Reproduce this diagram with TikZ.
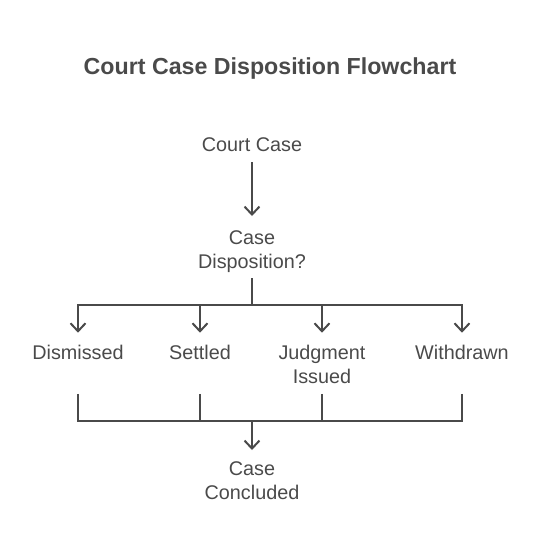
\documentclass[tikz,border=0pt]{standalone}
\usepackage{fontspec}
\setmainfont{Liberation Sans}
\usetikzlibrary{arrows.meta}
\definecolor{ink}{HTML}{4A4A4A}
\begin{document}
\begin{tikzpicture}[x=1pt,y=-1pt,
  lbl/.style={inner sep=0pt, anchor=north, align=center, text=ink, font=\fontsize{19.8}{24}\selectfont},
  conn/.style={draw=ink, line width=2pt},
  arr/.style={conn, -{Straight Barb[length=8pt,width=15pt]}}]
\useasboundingbox (0,0) rectangle (540,552);
\node[inner sep=0pt, anchor=base, text=ink, font=\bfseries\fontsize{23.2}{28}\selectfont] (title) at (270,74) {Court Case Disposition Flowchart};
\node[lbl] (court) at (252,137) {Court Case};
\node[lbl] (disp) at (252,230) {Case\\Disposition?};
\node[lbl] (dism) at (78,345) {Dismissed};
\node[lbl] (sett) at (200,345) {Settled};
\node[lbl] (judg) at (322,345) {Judgment\\Issued};
\node[lbl] (with) at (462,345) {Withdrawn};
\node[lbl] (concl) at (252,461) {Case\\Concluded};
\coordinate (split) at (252,305);
\coordinate (merge) at (252,421);
\draw[arr, shorten <=11pt, shorten >=14pt] (court.south) -- (disp.north);
\draw[conn, shorten <=6pt] (disp.south) -- (split);
\draw[arr, shorten >=12.3pt] (split) -| (dism.north);
\draw[arr, shorten >=12.3pt] (split) -| (sett.north);
\draw[arr, shorten >=12.3pt] (split) -| (judg.north);
\draw[arr, shorten >=12.3pt] (split) -| (with.north);
\draw[conn, shorten <=34pt] (dism.south) |- (merge);
\draw[conn, shorten <=34pt] (sett.south) |- (merge);
\draw[conn, shorten <=10pt] (judg.south) |- (merge);
\draw[conn, shorten <=34pt] (with.south) |- (merge);
\draw[arr, shorten >=11pt] (merge) -- (concl.north);
\end{tikzpicture}
\end{document}
